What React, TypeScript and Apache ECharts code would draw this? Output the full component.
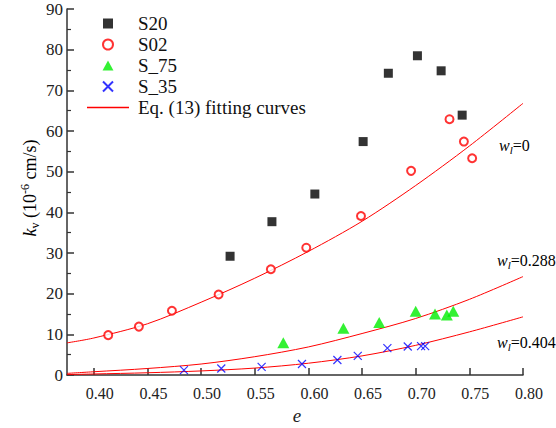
import React, { useEffect, useRef } from 'react';
import * as echarts from 'echarts';

const FONT = 'Liberation Serif, Times New Roman, serif';

// x-axis tick / label values
const xTicks = [0.4, 0.45, 0.5, 0.55, 0.6, 0.65, 0.7, 0.75, 0.8];

// measured series: [e, kv]
const s20 = [
  [0.527, 29.2], [0.566, 37.7], [0.606, 44.5], [0.651, 57.4],
  [0.6745, 74.2], [0.7016, 78.5], [0.7237, 74.8], [0.7433, 63.9],
];
const s02 = [
  [0.4134, 9.8], [0.442, 11.9], [0.4728, 15.8], [0.5163, 19.8], [0.565, 26.0],
  [0.598, 31.3], [0.649, 39.1], [0.6957, 50.2], [0.7315, 62.9], [0.7449, 57.4], [0.7526, 53.3],
];
const s75 = [
  [0.5766, 7.9], [0.6326, 11.5], [0.666, 12.9], [0.7, 15.7], [0.718, 15.0], [0.729, 14.75], [0.735, 15.7],
];
const s35 = [
  [0.484, 1.2], [0.5188, 1.6], [0.5564, 2.0], [0.594, 2.7], [0.627, 3.7], [0.646, 4.7],
  [0.6736, 6.6], [0.6926, 7.0], [0.705, 7.1], [0.7088, 7.1],
];

// fitting curves
const fitE = [0.375, 0.4, 0.45, 0.5, 0.55, 0.6, 0.65, 0.7, 0.75, 0.8];
const fitW0 = [7.9, 9.1, 12.6, 17.9, 23.8, 30.4, 37.8, 46.6, 56.3, 66.8];
const fitW288 = [0.4, 0.8, 1.6, 2.7, 4.5, 6.9, 10.2, 13.9, 18.6, 24.2];
const fitW404 = [0.1, 0.25, 0.55, 1.0, 1.7, 2.9, 4.7, 7.3, 10.6, 14.3];

const FIT_NAME = 'Eq. (13) fitting curves';

const SQUARE = 'path://M0,0L10,0L10,10L0,10Z';
const TRIANGLE = 'path://M6,0L12,11L0,11Z';
const CROSS = 'path://M0,0L10,10M10,0L0,10';
const LINE = 'path://M0,0L40,0L40,1.2L0,1.2Z';

export default function App() {
  const ref = useRef<HTMLDivElement>(null);
  useEffect(() => {
    if (!ref.current) return;
    const chart = echarts.init(ref.current, null, { renderer: 'svg' });
    const pair = (xs: number[], ys: number[]) => xs.map((x, i) => [x, ys[i]]);
    const fitSeries = (ys: number[]) => ({
      type: 'line',
      name: FIT_NAME,
      data: pair(fitE, ys),
      smooth: 0.3,
      symbol: 'none',
      showSymbol: false,
      lineStyle: { color: '#ff0000', width: 1 },
      itemStyle: { color: '#ff0000' },
      z: 1,
    });
    const wRich = {
      i: { fontFamily: FONT, fontStyle: 'italic', fontSize: 16, color: '#333', lineHeight: 20 },
      s: { fontFamily: FONT, fontStyle: 'italic', fontSize: 11, color: '#333', verticalAlign: 'bottom', lineHeight: 20 },
      n: { fontFamily: FONT, fontSize: 16, color: '#333', lineHeight: 20 },
    };
    chart.setOption({
      animation: false,
      backgroundColor: '#ffffff',
      textStyle: { fontFamily: FONT },
      grid: { left: 67, right: 33, top: 9, bottom: 53, containLabel: false },
      legend: {
        orient: 'vertical',
        left: 87,
        top: 14,
        padding: 0,
        itemWidth: 42,
        itemHeight: 10,
        itemGap: 2,
        data: [
          { name: 'S20', icon: SQUARE },
          { name: 'S02', icon: 'emptyCircle' },
          { name: 'S_75', icon: TRIANGLE },
          { name: 'S_35', icon: CROSS },
          { name: FIT_NAME, icon: LINE },
        ],
        textStyle: { fontFamily: FONT, fontSize: 19, color: '#111', padding: [0, 0, 0, 4] },
      },
      xAxis: {
        type: 'value',
        min: 0.375,
        max: 0.8,
        axisLine: { lineStyle: { color: '#333', width: 1.5 } },
        axisTick: { inside: true, length: 7, customValues: xTicks, lineStyle: { color: '#333', width: 1.5 } },
        axisLabel: {
          customValues: xTicks,
          formatter: (v: number) => v.toFixed(2),
          margin: 10,
          fontFamily: FONT,
          fontSize: 16,
          color: '#222',
          padding: [0, 0, 0, 12],
        },
        splitLine: { show: false },
      },
      yAxis: {
        type: 'value',
        min: 0,
        max: 90,
        interval: 10,
        axisLine: { show: true, lineStyle: { color: '#333', width: 1.5 } },
        axisTick: { show: true, inside: true, length: 7, lineStyle: { color: '#333', width: 1.5 } },
        minorTick: { show: true, splitNumber: 2, length: 4, lineStyle: { color: '#333', width: 1.2 } },
        axisLabel: { margin: 4, fontFamily: FONT, fontSize: 17, color: '#222' },
        splitLine: { show: false },
      },
      series: [
        {
          type: 'scatter', name: 'S20', data: s20, symbol: 'rect', symbolSize: 9,
          itemStyle: { color: '#000000' }, z: 3,
        },
        {
          type: 'scatter', name: 'S02', data: s02, symbol: 'emptyCircle', symbolSize: 8,
          itemStyle: { color: '#ff0000', borderColor: '#ff0000', borderWidth: 2 }, z: 3,
        },
        {
          type: 'scatter', name: 'S_75', data: s75, symbol: 'triangle', symbolSize: [12, 11],
          itemStyle: { color: '#00ee00' }, z: 3,
        },
        {
          type: 'scatter', name: 'S_35', data: s35, symbol: CROSS, symbolSize: 8,
          itemStyle: { color: '#0000ff', borderColor: '#0000ff', borderWidth: 1.2 }, z: 3,
        },
        fitSeries(fitW0),
        fitSeries(fitW288),
        fitSeries(fitW404),
      ],
      graphic: [
        {
          type: 'text', x: 30, y: 188, rotation: Math.PI / 2,
          style: {
            text: '{i|k}{s|v}{n| (10}{p|-6}{n| cm/s)}',
            align: 'center', verticalAlign: 'middle',
            rich: {
              i: { fontFamily: FONT, fontStyle: 'italic', fontSize: 18, color: '#222', lineHeight: 22 },
              s: { fontFamily: FONT, fontSize: 12, color: '#222', verticalAlign: 'bottom', lineHeight: 22 },
              n: { fontFamily: FONT, fontSize: 18, color: '#222', lineHeight: 22 },
              p: { fontFamily: FONT, fontSize: 12, color: '#222', verticalAlign: 'top', lineHeight: 22 },
            },
          },
        },
        {
          type: 'text', x: 297, y: 415,
          style: { text: 'e', fontFamily: FONT, fontStyle: 'italic', fontSize: 19, fill: '#222', align: 'center', verticalAlign: 'middle' },
        },
        {
          type: 'text', x: 499, y: 145,
          style: { text: '{i|w}{s|l}{n|=0}', align: 'left', verticalAlign: 'middle', rich: wRich },
        },
        {
          type: 'text', x: 497, y: 260,
          style: { text: '{i|w}{s|l}{n|=0.288}', align: 'left', verticalAlign: 'middle', rich: wRich },
        },
        {
          type: 'text', x: 497, y: 342,
          style: { text: '{i|w}{s|l}{n|=0.404}', align: 'left', verticalAlign: 'middle', rich: wRich },
        },
      ],
    });
    return () => chart.dispose();
  }, []);
  return (
    <div
      ref={ref}
      style={{ position: 'fixed', left: 0, top: 0, width: 556, height: 428, background: '#fff' }}
    />
  );
}
